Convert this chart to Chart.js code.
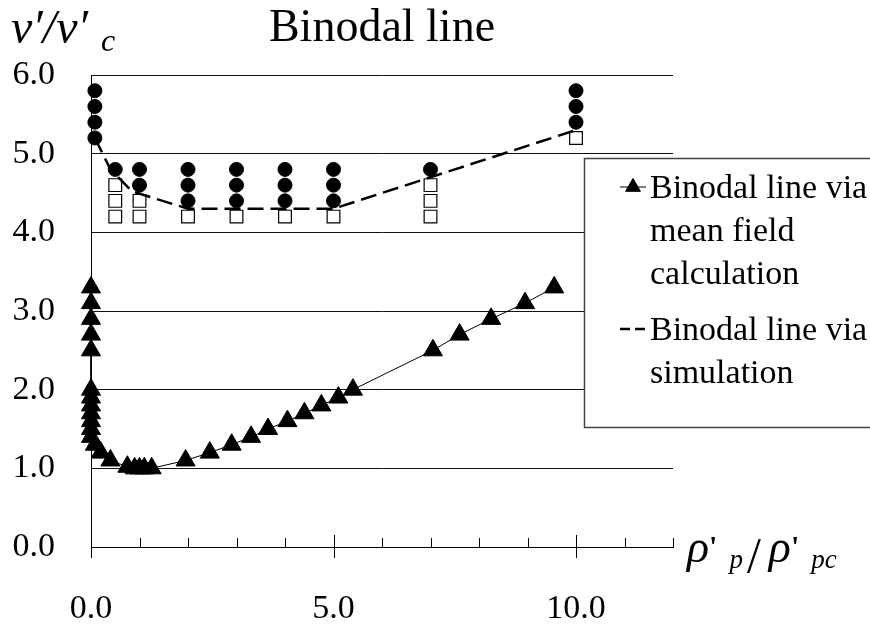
<!DOCTYPE html>
<html>
<head>
<meta charset="utf-8">
<title>Binodal line</title>
<script src="https://cdn.jsdelivr.net/npm/chart.js@4.4.0/dist/chart.umd.min.js"></script>
<style>
  html, body { margin: 0; padding: 0; background: #fff; }
  #wrap { position: relative; width: 870px; height: 624px; }
</style>
</head>
<body>
<div id="wrap"><canvas id="binodalChart" width="870" height="624"></canvas></div>
<script>
// x = rho'_p / rho'_pc , y = v' / v'_c

// binodal line from mean field calculation (triangles)
const meanFieldX = [0, 0, 0, 0, 0, 0, 0, 0, 0, 0, 0, 0, 0.08, 0.2, 0.4, 0.75, 0.9, 1.0, 1.1, 1.25,
  1.95, 2.45, 2.9, 3.3, 3.65, 4.05, 4.4, 4.75, 5.1, 5.4, 7.05, 7.6, 8.25, 8.95, 9.55];
const meanFieldY = [3.3, 3.1, 2.9, 2.7, 2.5, 2.0, 1.9, 1.8, 1.7, 1.6, 1.5, 1.4, 1.3, 1.2, 1.1, 1.02, 1.0, 1.0, 1.0, 1.0,
  1.1, 1.2, 1.3, 1.4, 1.5, 1.6, 1.7, 1.8, 1.9, 2.0, 2.5, 2.7, 2.9, 3.1, 3.3];

// binodal line from simulation (dashed)
const simLineX = [0.08, 0.4, 0.85, 2, 3, 4, 5, 7, 10];
const simLineY = [5.2, 4.8, 4.52, 4.3, 4.3, 4.3, 4.3, 4.7, 5.3];

// simulation runs: filled circles (separated) / open squares (mixed)
const filledX = [0.08, 0.08, 0.08, 0.08, 0.5, 1, 1, 2, 2, 2, 3, 3, 3, 4, 4, 4, 5, 5, 5, 7, 10, 10, 10];
const filledY = [5.8, 5.6, 5.4, 5.2, 4.8, 4.8, 4.6, 4.8, 4.6, 4.4, 4.8, 4.6, 4.4, 4.8, 4.6, 4.4, 4.8, 4.6, 4.4, 4.8, 5.8, 5.6, 5.4];
const openX = [0.5, 0.5, 0.5, 1, 1, 2, 3, 4, 5, 7, 7, 7, 10];
const openY = [4.6, 4.4, 4.2, 4.4, 4.2, 4.2, 4.2, 4.2, 4.2, 4.6, 4.4, 4.2, 5.2];

// axes
const xMin = 0, xMax = 12, xStep = 1;
const xLabelValues = [0, 5, 10];
const yMin = 0, yMax = 6, yStep = 1;

const legendLines = [
  ['Binodal line via', 'mean field', 'calculation'],
  ['Binodal line via', 'simulation']
];

const SERIF = '"Liberation Serif", "Times New Roman", serif';

function toPoints(xs, ys) {
  return xs.map((x, i) => ({ x: x, y: ys[i] }));
}

// ticks, titles and legend box drawn on top of the chart
const decorations = {
  id: 'decorations',
  afterDraw(chart) {
    const ctx = chart.ctx;
    const area = chart.chartArea;
    const xs = chart.scales.x;

    ctx.save();
    ctx.fillStyle = '#000';
    ctx.strokeStyle = '#000';

    // x tick marks: small ones inside, major ones crossing the axis
    ctx.lineWidth = 1;
    for (let v = xMin; v <= xMax; v += xStep) {
      const px = Math.round(xs.getPixelForValue(v)) + 0.5;
      const major = v % 5 === 0;
      ctx.beginPath();
      ctx.moveTo(px, area.bottom - (major ? 12 : 9));
      ctx.lineTo(px, area.bottom + (major ? 11 : 0));
      ctx.stroke();
    }

    // title
    ctx.font = '46px ' + SERIF;
    ctx.textAlign = 'center';
    ctx.textBaseline = 'alphabetic';
    ctx.fillText('Binodal line', (area.left + area.right) / 2, 41);

    // y axis title  v'/v'_c
    ctx.textAlign = 'left';
    ctx.font = 'italic 48px ' + SERIF;
    ctx.fillText('v\u2032/v\u2032', 11, 43);
    ctx.font = 'italic 32px ' + SERIF;
    ctx.fillText('c', 101, 51);

    // x axis title  rho'_p / rho'_pc
    let cx = 687;
    const bigRho = 'italic 46px ' + SERIF;
    const prime = 'bold 30px ' + SERIF;
    const sub = 'italic 27px ' + SERIF;
    const pieces = [
      ['\u03c1', bigRho, 562, 0],
      ['\'', prime, 556, 12],
      ['p', sub, 568, 4],
      ['/', '50px ' + SERIF, 572, 8],
      ['\u03c1', bigRho, 562, 0],
      ['\'', prime, 556, 12],
      ['pc', sub, 568, 0]
    ];
    pieces.forEach(p => {
      ctx.font = p[1];
      ctx.fillText(p[0], cx, p[2]);
      cx += ctx.measureText(p[0]).width + p[3];
    });

    // legend
    const lx = 584, ly = 158, lw = 300, lh = 269;
    ctx.fillStyle = '#fff';
    ctx.fillRect(lx, ly, lw, lh);
    ctx.strokeStyle = '#444';
    ctx.lineWidth = 1.5;
    ctx.strokeRect(lx + 0.5, ly + 0.5, lw, lh);

    ctx.fillStyle = '#000';
    ctx.font = '34px ' + SERIF;
    const baselines = [[198, 241, 284], [340, 383]];
    legendLines.forEach((lines, i) => {
      lines.forEach((t, j) => ctx.fillText(t, 650, baselines[i][j]));
    });

    // legend samples, styled from the datasets
    const d0 = chart.data.datasets[0];
    const d1 = chart.data.datasets[1];
    let sy = baselines[0][0] - 11;
    ctx.strokeStyle = d0.borderColor;
    ctx.lineWidth = d0.borderWidth;
    ctx.beginPath();
    ctx.moveTo(620, sy);
    ctx.lineTo(646, sy);
    ctx.stroke();
    Chart.helpers.drawPoint(ctx, {
      pointStyle: d0.pointStyle, radius: 8.5, rotation: 0, borderWidth: 1
    }, 633, sy);
    ctx.fill();

    sy = baselines[1][0] - 11;
    ctx.strokeStyle = d1.borderColor;
    ctx.lineWidth = d1.borderWidth;
    ctx.setLineDash([10, 5]);
    ctx.beginPath();
    ctx.moveTo(620, sy);
    ctx.lineTo(646, sy);
    ctx.stroke();
    ctx.restore();
  }
};

const ctx = document.getElementById('binodalChart').getContext('2d');
const chart = new Chart(ctx, {
  type: 'scatter',
  data: {
    datasets: [
      {
        label: 'Binodal line via mean field calculation',
        data: toPoints(meanFieldX, meanFieldY),
        showLine: true,
        borderColor: '#000',
        backgroundColor: '#000',
        borderWidth: 1,
        pointStyle: 'triangle',
        pointRadius: 11,
        pointBorderWidth: 1,
        clip: false
      },
      {
        label: 'Binodal line via simulation',
        data: toPoints(simLineX, simLineY),
        showLine: true,
        borderColor: '#000',
        borderWidth: 2.5,
        borderDash: [16, 7],
        pointRadius: 0,
        clip: false
      },
      {
        label: 'separated',
        data: toPoints(filledX, filledY),
        pointStyle: 'circle',
        pointRadius: 7,
        backgroundColor: '#000',
        borderColor: '#000',
        pointBorderWidth: 1,
        clip: false
      },
      {
        label: 'mixed',
        data: toPoints(openX, openY),
        pointStyle: 'rect',
        pointRadius: 9,
        backgroundColor: '#fff',
        borderColor: '#000',
        pointBorderWidth: 1.2,
        clip: false
      }
    ]
  },
  options: {
    responsive: false,
    animation: false,
    layout: { padding: { top: 75, right: 197, left: 0, bottom: 0 } },
    plugins: {
      legend: { display: false },
      tooltip: { enabled: false }
    },
    scales: {
      x: {
        type: 'linear',
        min: xMin,
        max: xMax,
        afterFit: s => { s.height = 77; },
        grid: { drawOnChartArea: false, drawTicks: false },
        border: { display: true, color: '#000', width: 1 },
        ticks: {
          stepSize: xStep,
          autoSkip: false,
          maxRotation: 0,
          padding: 42,
          color: '#000',
          font: { family: SERIF, size: 34 },
          callback: v => xLabelValues.includes(v) ? v.toFixed(1) : ''
        }
      },
      y: {
        min: yMin,
        max: yMax,
        afterFit: s => { s.width = 91; },
        grid: { color: '#111', lineWidth: 1, drawTicks: false },
        border: { display: true, color: '#000', width: 1 },
        ticks: {
          stepSize: yStep,
          padding: 36,
          color: '#000',
          font: { family: SERIF, size: 34 },
          callback: v => v.toFixed(1)
        }
      }
    }
  },
  plugins: [decorations]
});
</script>
</body>
</html>
